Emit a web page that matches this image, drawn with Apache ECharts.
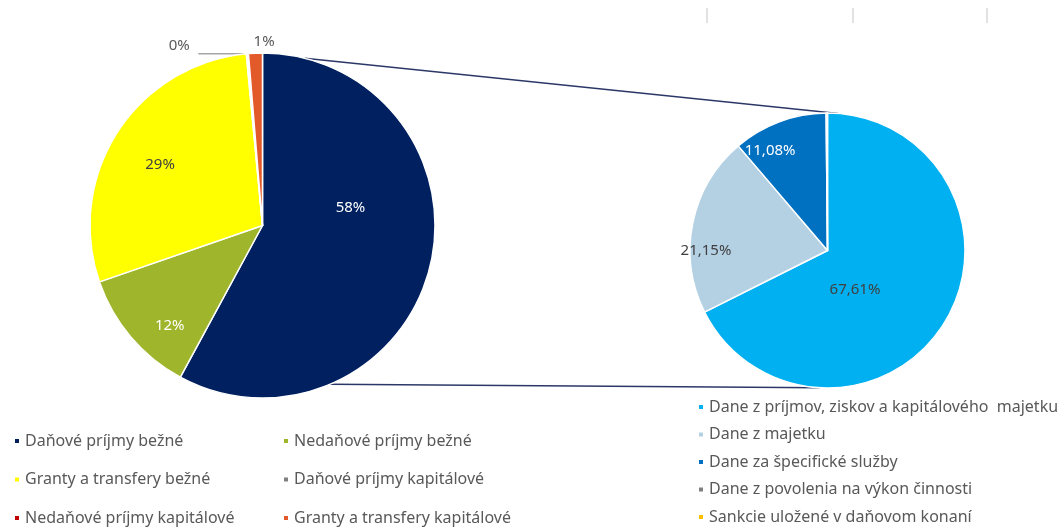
<!DOCTYPE html>
<html><head><meta charset="utf-8">
<script src="https://cdn.jsdelivr.net/npm/echarts@6/dist/echarts.min.js"></script>
<style>html,body{margin:0;padding:0;background:#fff}#c{width:1060px;height:528px}</style>
</head><body><div id="c"></div>
<script>
// ---- data ----
const mainCategories = [
  'Daňové príjmy bežné',
  'Nedaňové príjmy bežné',
  'Granty a transfery bežné',
  'Daňové príjmy kapitálové',
  'Nedaňové príjmy kapitálové',
  'Granty a transfery kapitálové'
];
const mainValues = [57.9, 11.8, 28.8, 0.1, 0.1, 1.3];
const taxCategories = [
  'Dane z príjmov, ziskov a kapitálového  majetku',
  'Dane z majetku',
  'Dane za špecifické služby',
  'Dane z povolenia na výkon činnosti',
  'Sankcie uložené v daňovom konaní'
];
const taxValues = [67.61, 21.15, 11.08, 0.10, 0.06];

// ---- styles ----
const mainColors = ['#002060', '#9FB52B', '#FFFF00', '#808080', '#C00000', '#E35A2A'];
const taxColors = ['#00B0F0', '#B4D1E4', '#0070C0', '#7F7F7F', '#FFC000'];
const mainLabelColors = ['#ffffff', '#ffffff', '#404040', '#595959', '#595959', '#595959'];
const taxLabelColors = ['#404040', '#404040', '#ffffff', '#404040', '#404040'];
const mainLabelShow = [true, true, true, true, false, true];
const taxLabelShow = [true, true, true, false, false];
// label placement as [angle from 12 o'clock (deg, clockwise), fraction of radius]
const mainLabelPolar = [[78.7, 0.52], [222.9, 0.79], [300.6, 0.69], [335.2, 1.15], [0, 1], [0.5, 1.064]];
const taxLabelPolar = [[145.2, 0.35], [269.8, 0.884], [330.2, 0.84], [0, 1], [0, 1]];

const LEFT = { cx: 262.5, cy: 225.5, r: 172.5 };
const RIGHT = { cx: 827.5, cy: 250.5, r: 137.5 };
function pt(c, a, f) {
  const t = a * Math.PI / 180;
  return [c.cx + c.r * f * Math.sin(t), c.cy - c.r * f * Math.cos(t)];
}

const FONT = 'Noto Sans';

const mainData = mainCategories.map((n, i) => ({
  name: n, value: mainValues[i],
  itemStyle: { color: mainColors[i] },
  label: { show: mainLabelShow[i], color: mainLabelColors[i], position: 'inside' },
  labelLine: { show: false }
}));
const taxData = taxCategories.map((n, i) => ({
  name: n, value: taxValues[i],
  itemStyle: { color: taxColors[i] },
  label: { show: taxLabelShow[i], color: taxLabelColors[i], position: 'inside' },
  labelLine: { show: false }
}));

function makeLayout(c, polar) {
  return function (p) {
    const q = polar[p.dataIndex];
    const xy = pt(c, q[0], q[1]);
    return { x: xy[0], y: xy[1], align: 'center', verticalAlign: 'middle' };
  };
}

// angle (deg) of the middle of a slice of the main pie
function midAngle(values, idx) {
  const tot = values.reduce((a, b) => a + b, 0);
  let s = 0;
  for (let i = 0; i < idx; i++) s += values[i];
  return (s + values[idx] / 2) / tot * 360;
}

const chart = echarts.init(document.getElementById('c'), null, { renderer: 'canvas' });
const c1 = pt(LEFT, 14.2, 1), c2 = pt(RIGHT, 4.4, 1);
const c3 = pt(LEFT, 157, 1), c4 = pt(RIGHT, 183.2, 1);
const leadEnd = pt(LEFT, midAngle(mainValues, 3), 1);
const leadStart = pt(LEFT, mainLabelPolar[3][0], mainLabelPolar[3][1]);

const legendText = { fontFamily: FONT, fontSize: 16, color: '#595959', lineHeight: 16 };
chart.setOption({
  animation: false,
  backgroundColor: '#ffffff',
  textStyle: { fontFamily: FONT },
  graphic: [
    { type: 'line', z: 0, shape: { x1: c1[0], y1: c1[1], x2: c2[0], y2: c2[1] }, style: { stroke: '#2B3867', lineWidth: 1.5 } },
    { type: 'line', z: 0, shape: { x1: c3[0], y1: c3[1], x2: c4[0], y2: c4[1] }, style: { stroke: '#2B3867', lineWidth: 1.5 } },
    { type: 'line', z: 0, shape: { x1: leadStart[0] + 19, y1: leadEnd[1], x2: leadEnd[0] - 3, y2: leadEnd[1] }, style: { stroke: '#A6A6A6', lineWidth: 1.5 } },
    { type: 'line', shape: { x1: 707, y1: 8, x2: 707, y2: 23 }, style: { stroke: '#D9D9D9', lineWidth: 1.5 } },
    { type: 'line', shape: { x1: 853, y1: 8, x2: 853, y2: 23 }, style: { stroke: '#D9D9D9', lineWidth: 1.5 } },
    { type: 'line', shape: { x1: 987, y1: 8, x2: 987, y2: 23 }, style: { stroke: '#D9D9D9', lineWidth: 1.5 } }
  ],
  legend: [
    {
      orient: 'vertical', left: 13, top: 433, height: 200, padding: 0, itemGap: 22.5, itemWidth: 6, itemHeight: 6,
      icon: 'rect', selectedMode: false, textStyle: legendText,
      data: [mainCategories[0], mainCategories[2], mainCategories[4]]
    },
    {
      orient: 'vertical', left: 282, top: 433, height: 200, padding: 0, itemGap: 22.5, itemWidth: 6, itemHeight: 6,
      icon: 'rect', selectedMode: false, textStyle: legendText,
      data: [mainCategories[1], mainCategories[3], mainCategories[5]]
    },
    {
      orient: 'vertical', left: 697, top: 399, height: 200, padding: 0, itemGap: 11.5, itemWidth: 6, itemHeight: 6,
      icon: 'rect', selectedMode: false, textStyle: legendText,
      data: taxCategories
    }
  ],
  series: [
    {
      type: 'pie', center: [LEFT.cx, LEFT.cy], radius: LEFT.r,
      startAngle: 90, clockwise: true, avoidLabelOverlap: false,
      itemStyle: { borderColor: '#ffffff', borderWidth: 1.5 },
      label: {
        fontFamily: FONT, fontSize: 15,
        formatter: p => Math.round(p.percent) + '%'
      },
      labelLayout: makeLayout(LEFT, mainLabelPolar),
      data: mainData
    },
    {
      type: 'pie', center: [RIGHT.cx, RIGHT.cy], radius: RIGHT.r,
      startAngle: 90, clockwise: true, avoidLabelOverlap: false,
      itemStyle: { borderColor: '#ffffff', borderWidth: 1.5 },
      label: {
        fontFamily: FONT, fontSize: 15,
        formatter: p => p.percent.toFixed(2).replace('.', ',') + '%'
      },
      labelLayout: makeLayout(RIGHT, taxLabelPolar),
      data: taxData
    }
  ]
});
</script>
</body></html>
